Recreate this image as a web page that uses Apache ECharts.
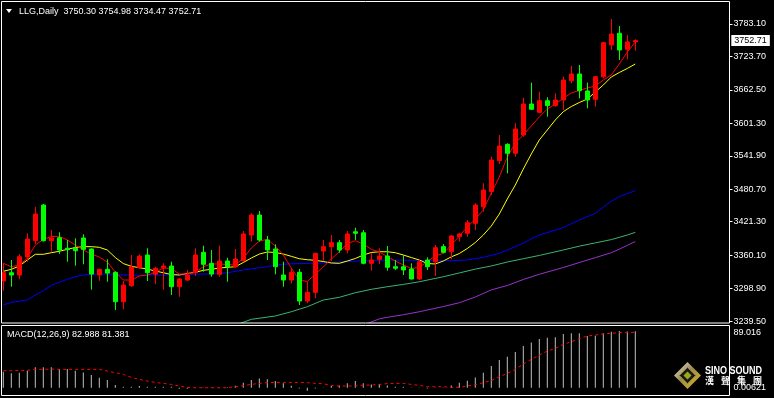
<!DOCTYPE html>
<html>
<head>
<meta charset="utf-8">
<script src="https://cdn.jsdelivr.net/npm/echarts@6/dist/echarts.min.js"></script>
<style>
    html, body { margin: 0; padding: 0; background: #000; }
    #main_chart { width: 774px; height: 398px; }
</style>
</head>
<body>
<div id="main_chart"></div>
<script>
// daily bars, oldest first (last bar = LLG 3750.30 3754.98 3734.47 3752.71)
const openP = [3312.7, 3327.9, 3323.7, 3356.6, 3386.5, 3451.8, 3386.5, 3392.0, 3372.6, 3372.6,
    3391.4, 3371.3, 3323.7, 3334.1, 3328.6, 3274.8, 3304.1, 3337.1, 3360.3, 3325.0,
    3337.1, 3340.2, 3302.3, 3314.5, 3328.6, 3365.2, 3345.1, 3325.0, 3349.3, 3338.9,
    3350.0, 3396.9, 3433.5, 3387.8, 3371.3, 3323.7, 3314.5, 3328.6, 3276.1, 3292.0,
    3367.6, 3375.6, 3382.9, 3369.5, 3402.9, 3401.1, 3345.1, 3352.4, 3358.5, 3338.9,
    3338.9, 3334.7, 3316.4, 3351.2, 3348.0, 3375.6, 3366.3, 3393.8, 3400.0, 3418.3,
    3448.7, 3476.3, 3532.9, 3562.9, 3546.4, 3579.9, 3636.7, 3621.5, 3642.7, 3633.6,
    3644.0, 3679.3, 3691.6, 3660.5, 3645.3, 3686.6, 3744.7, 3766.1, 3736.8, 3750.30];
const closeP = [3327.9, 3323.7, 3357.2, 3389.6, 3435.3, 3386.5, 3391.4, 3369.5, 3370.0, 3368.2,
    3370.7, 3325.5, 3334.1, 3327.2, 3274.8, 3305.4, 3338.3, 3358.5, 3327.9, 3336.0,
    3340.2, 3302.3, 3316.4, 3323.7, 3360.3, 3343.3, 3325.5, 3349.3, 3338.9, 3353.0,
    3398.8, 3433.5, 3387.8, 3369.5, 3338.9, 3314.5, 3328.6, 3276.1, 3292.0, 3363.4,
    3375.6, 3382.9, 3369.5, 3398.8, 3400.0, 3345.1, 3351.2, 3358.5, 3337.8, 3336.0,
    3332.9, 3316.4, 3348.0, 3338.9, 3373.7, 3365.2, 3395.1, 3398.8, 3419.4, 3451.8,
    3479.3, 3534.2, 3559.8, 3546.4, 3590.9, 3636.7, 3627.0, 3642.7, 3633.6, 3644.0,
    3680.6, 3691.6, 3661.0, 3644.0, 3686.6, 3748.9, 3764.8, 3735.5, 3750.2, 3752.71];
const lowP = [3295.0, 3302.3, 3315.9, 3348.0, 3380.4, 3385.0, 3366.3, 3362.1, 3348.0, 3340.7,
    3343.3, 3296.8, 3313.3, 3311.5, 3259.6, 3260.9, 3302.0, 3334.7, 3312.7, 3306.7,
    3296.8, 3287.1, 3284.0, 3312.7, 3322.4, 3329.8, 3320.6, 3320.6, 3311.5, 3337.1,
    3348.0, 3384.9, 3384.9, 3351.2, 3325.0, 3302.3, 3308.5, 3268.8, 3272.2, 3281.1,
    3349.3, 3349.3, 3364.5, 3363.4, 3387.8, 3343.3, 3331.6, 3343.9, 3331.6, 3332.9,
    3323.7, 3315.5, 3314.5, 3332.9, 3321.9, 3363.4, 3352.4, 3384.9, 3393.8, 3406.1,
    3439.6, 3470.1, 3526.9, 3509.8, 3540.2, 3576.8, 3626.0, 3619.6, 3613.4, 3631.7,
    3625.7, 3674.6, 3647.1, 3628.8, 3631.7, 3683.7, 3735.5, 3717.2, 3718.5, 3734.47];
const highP = [3345.1, 3351.2, 3362.1, 3400.0, 3448.2, 3453.7, 3406.1, 3401.9, 3387.8, 3390.9,
    3398.2, 3372.5, 3335.0, 3352.4, 3330.5, 3312.7, 3360.3, 3361.5, 3372.6, 3338.9,
    3345.1, 3348.0, 3318.0, 3332.9, 3372.6, 3377.3, 3369.5, 3377.3, 3355.4, 3371.3,
    3404.2, 3436.6, 3440.8, 3395.1, 3379.9, 3348.0, 3334.7, 3334.7, 3311.0, 3364.0,
    3387.8, 3396.9, 3387.8, 3404.2, 3410.3, 3406.1, 3363.4, 3372.6, 3376.8, 3351.2,
    3360.3, 3345.1, 3351.2, 3356.1, 3378.6, 3380.4, 3396.9, 3401.1, 3424.4, 3454.9,
    3491.5, 3540.2, 3579.9, 3564.7, 3601.3, 3648.2, 3675.7, 3659.2, 3649.0, 3656.3,
    3686.6, 3706.2, 3708.1, 3675.7, 3687.5, 3750.7, 3792.2, 3779.4, 3763.0, 3754.98];

// moving averages
const maRed = [3345.1, 3338.9, 3342.0, 3354.3, 3378.6, 3388.7, 3394.2, 3394.5, 3387.8, 3378.6,
    3369.5, 3362.1, 3356.6, 3347.5, 3329.2, 3314.5, 3314.5, 3321.9, 3323.7, 3328.3,
    3336.5, 3335.6, 3325.5, 3325.5, 3328.6, 3338.9, 3343.9, 3343.9, 3342.9, 3342.0,
    3354.3, 3373.1, 3385.9, 3389.0, 3376.8, 3360.3, 3336.5, 3314.5, 3311.8, 3325.5,
    3338.3, 3353.0, 3366.3, 3381.3, 3386.5, 3380.4, 3370.7, 3365.8, 3357.5, 3349.3,
    3342.0, 3335.9, 3337.4, 3348.4, 3358.5, 3363.4, 3378.6, 3395.1, 3411.6, 3426.2,
    3442.7, 3473.8, 3503.0, 3539.7, 3565.3, 3579.9, 3596.4, 3612.9, 3627.5, 3636.7,
    3647.1, 3656.8, 3661.4, 3666.0, 3669.6, 3680.6, 3689.8, 3709.9, 3731.9, 3750.1];
const maYellow = [3330.4, 3334.1, 3340.2, 3351.2, 3361.6, 3361.6, 3364.5, 3367.1, 3370.7, 3374.0,
    3375.6, 3375.6, 3374.4, 3369.5, 3355.7, 3344.7, 3339.6, 3337.1, 3334.7, 3331.0,
    3327.9, 3324.6, 3323.7, 3326.5, 3328.6, 3332.3, 3334.1, 3336.5, 3337.8, 3338.9,
    3346.6, 3354.8, 3362.1, 3365.8, 3364.9, 3362.1, 3357.9, 3353.5, 3351.7, 3350.6,
    3348.4, 3345.7, 3345.1, 3349.3, 3353.9, 3360.3, 3364.9, 3366.3, 3366.3, 3364.5,
    3360.3, 3355.7, 3351.2, 3344.7, 3343.9, 3349.3, 3357.0, 3363.0, 3372.2, 3383.2,
    3396.9, 3413.4, 3435.3, 3462.8, 3488.4, 3517.7, 3545.2, 3570.8, 3589.1, 3607.4,
    3622.6, 3632.1, 3639.4, 3645.8, 3658.6, 3671.4, 3686.1, 3694.3, 3701.7, 3709.9];
// [bar index, value]
const maBlue = [[0, 3268.8], [1, 3273.7], [3, 3277.9], [4, 3287.1], [5, 3295.0], [6, 3305.0],
    [8, 3315.8], [9, 3320.6], [10, 3323.7], [12, 3325.5], [13, 3325.5], [15, 3323.7],
    [17, 3323.1], [18, 3323.7], [21, 3323.7], [23, 3323.7], [24, 3325.5], [26, 3325.5],
    [28, 3327.9], [30, 3332.9], [33, 3338.9], [34, 3342.0], [36, 3344.4], [39, 3345.1],
    [41, 3346.6], [45, 3349.9], [49, 3351.2], [53, 3349.9], [56, 3349.9], [58, 3351.2],
    [60, 3356.0], [62, 3363.4], [63, 3369.5], [65, 3382.0], [66, 3390.0], [67, 3396.9],
    [70, 3410.5], [72, 3424.4], [74, 3436.6], [76, 3459.0], [77, 3467.0], [78, 3473.0], [79, 3478.0]];
const maGreen = [[29, 3232.0], [31, 3242.6], [34, 3248.7], [36, 3256.5], [38, 3265.7], [40, 3277.9],
    [42, 3282.9], [44, 3291.3], [46, 3297.5], [48, 3302.3], [50, 3306.5], [52, 3311.4],
    [55, 3320.5], [57, 3327.5], [59, 3334.5], [61, 3340.2], [63, 3347.5], [65, 3353.5],
    [67, 3359.5], [70, 3369.5], [72, 3376.5], [74, 3382.5], [76, 3388.5], [78, 3396.9], [79, 3401.8]];
const maPurple = [[45, 3232.0], [47, 3243.5], [48, 3246.3], [50, 3251.0], [52, 3256.5], [55, 3266.0],
    [57, 3273.0], [59, 3283.5], [61, 3296.5], [63, 3304.5], [65, 3315.5], [67, 3325.0],
    [70, 3337.5], [72, 3346.5], [74, 3355.5], [76, 3364.5], [77, 3371.0], [78, 3378.0], [79, 3385.0]];

// MACD(12,26,9)
const macdMain = [23.5, 21.1, 22.1, 25.0, 29.9, 29.9, 29.9, 27.4, 27.4, 25.0,
    22.5, 18.6, 14.7, 11.3, 3.9, 1.5, 1.5, 2.5, 1.5, 1.5,
    1.5, 1.5, -1.5, -1.5, 0.3, 0.3, 0.3, 0.5, 0.8, 2.9,
    7.4, 11.3, 13.7, 12.3, 9.8, 6.4, 2.9, -1.0, -4.4, -1.0,
    0.5, 2.5, 3.4, 6.4, 9.8, 6.4, 4.9, 5.4, 3.2, 1.5,
    1.5, -0.5, -0.5, -1.0, 0.3, 0.5, 3.4, 7.4, 10.3, 15.2,
    22.1, 31.9, 40.7, 45.6, 52.4, 61.3, 66.6, 71.5, 73.5, 74.0,
    78.9, 79.9, 79.9, 76.0, 76.4, 79.9, 82.3, 83.3, 82.8, 82.988];
const macdSignal = [25.0, 25.0, 25.5, 25.5, 27.0, 27.0, 27.4, 27.0, 27.0, 27.0,
    27.0, 27.0, 27.0, 24.5, 22.1, 19.6, 15.2, 12.3, 9.8, 7.8,
    6.4, 4.9, 2.5, 0.5, 0.0, 0.0, 0.0, 0.0, 0.0, 1.5,
    2.9, 4.9, 6.4, 7.4, 7.8, 7.8, 7.8, 7.8, 7.4, 6.4,
    5.9, 3.4, 2.5, 2.5, 2.5, 3.9, 3.9, 4.9, 6.1, 6.4,
    6.4, 4.9, 3.4, 1.5, 1.5, 1.5, 0.5, 0.5, 2.5, 4.4,
    7.4, 10.3, 16.2, 21.1, 27.0, 34.8, 41.7, 48.0, 53.9, 57.8,
    63.7, 67.6, 72.0, 76.0, 77.4, 78.9, 79.9, 80.9, 81.3, 81.381];

const priceTicks = [3239.50, 3298.90, 3360.10, 3421.30, 3480.70, 3541.90, 3601.30, 3662.50, 3723.70, 3783.10];
const macdScale = [89.016, 0.00621];
// 80 bars + empty room on the right
const categories = Array.from({length: 92}, (_, i) => 'D' + (i + 1));

let FONT = '"Liberation Sans", Arial, sans-serif';
let last = openP.length - 1;
let headerText = 'LLG,Daily  ' + [openP[last], highP[last], lowP[last], closeP[last]].map(v => v.toFixed(2)).join(' ');
let macdText = 'MACD(12,26,9) ' + macdMain[last].toFixed(3) + ' ' + macdSignal[last].toFixed(3);

let candles = openP.map((o, i) => [o, closeP[i], lowP[i], highP[i]]);

function maLine(name, data, color) {
    return {
        name: name,
        type: 'line',
        xAxisIndex: 0,
        yAxisIndex: 0,
        data: data,
        symbol: 'none',
        silent: true,
        clip: true,
        lineStyle: {color: color, width: 1},
        z: 3
    };
}

let myChart = echarts.init(document.getElementById('main_chart'), null, {renderer: 'canvas'});

let option = {
    backgroundColor: '#000',
    animation: false,
    grid: [
        {left: 3.3, right: 42.7, top: 3, bottom: 75.5, outerBoundsMode: 'none'},
        {left: 3.3, right: 42.7, top: 326, bottom: 3, outerBoundsMode: 'none'}
    ],
    xAxis: [
        {type: 'category', gridIndex: 0, data: categories, boundaryGap: false, show: false},
        {type: 'category', gridIndex: 1, data: categories, boundaryGap: false, show: false}
    ],
    yAxis: [{
        type: 'value',
        gridIndex: 0,
        position: 'right',
        offset: -1.8,
        min: 3236.8,
        max: 3821.5,
        splitLine: {show: false},
        axisLine: {show: false},
        axisTick: {show: true, customValues: priceTicks, length: 3, lineStyle: {color: '#fff', width: 1}},
        axisLabel: {
            customValues: priceTicks,
            color: '#fff',
            fontSize: 9,
            fontFamily: FONT,
            margin: 4,
            formatter: v => v.toFixed(2)
        }
    }, {
        type: 'value',
        gridIndex: 1,
        position: 'right',
        offset: -1.8,
        min: -10.7,
        max: 90.7,
        splitLine: {show: false},
        axisLine: {show: false},
        axisTick: {show: false},
        axisLabel: {
            customValues: macdScale,
            color: '#fff',
            fontSize: 9,
            fontFamily: FONT,
            margin: 4,
            formatter: v => (v > 1 ? '{hi|' + v.toFixed(3) + '}' : v.toFixed(5)),
            rich: {
                hi: {color: '#fff', fontSize: 9, fontFamily: FONT, padding: [10, 0, 0, 0]}
            }
        }
    }],
    series: [
        maLine('MA purple', maPurple, '#9932cc'),
        maLine('MA green', maGreen, '#3cb371'),
        maLine('MA blue', maBlue, '#0000ff'),
        maLine('MA yellow', maYellow, '#ffff00'),
        {
            name: 'LLG',
            type: 'candlestick',
            xAxisIndex: 0,
            yAxisIndex: 0,
            data: candles,
            barWidth: 4,
            clip: true,
            silent: true,
            z: 4,
            itemStyle: {
                color: '#ff0000',
                color0: '#00ff00',
                borderColor: '#ff0000',
                borderColor0: '#00ff00',
                borderWidth: 1
            },
            markLine: {
                silent: true,
                symbol: ['none', 'none'],
                lineStyle: {color: 'rgba(0,0,0,0)', width: 1, type: 'solid'},
                data: [{yAxis: closeP[last]}],
                label: {
                    show: true,
                    position: 'end',
                    distance: 0,
                    formatter: p => Number(p.value).toFixed(2),
                    backgroundColor: '#fff',
                    color: '#000',
                    fontSize: 9,
                    fontFamily: FONT,
                    padding: [1, 3, 1, 3]
                }
            }
        },
        maLine('MA red', maRed, '#ff0000'),
        {
            name: 'MACD',
            type: 'bar',
            xAxisIndex: 1,
            yAxisIndex: 1,
            data: macdMain,
            barWidth: 1,
            silent: true,
            itemStyle: {color: '#c0c0c0'}
        },
        {
            name: 'Signal',
            type: 'line',
            xAxisIndex: 1,
            yAxisIndex: 1,
            data: macdSignal,
            symbol: 'none',
            silent: true,
            lineStyle: {color: '#ff0000', width: 1, type: [3, 3]}
        }
    ],
    graphic: [
        // chart frames
        {type: 'rect', shape: {x: 1.5, y: 1.5, width: 728, height: 321.5}, style: {fill: null, stroke: '#fff', lineWidth: 1}, silent: true, z: 10},
        {type: 'rect', shape: {x: 1.5, y: 325.5, width: 728, height: 70}, style: {fill: null, stroke: '#fff', lineWidth: 1}, silent: true, z: 10},
        // header
        {type: 'polygon', shape: {points: [[6, 9], [12, 9], [9, 13]]}, style: {fill: '#fff'}, silent: true, z: 11},
        {type: 'text', x: 19, y: 7, style: {text: headerText, fill: '#fff', font: '9px ' + FONT}, silent: true, z: 11},
        {type: 'text', x: 7, y: 330, style: {text: macdText, fill: '#fff', font: '9px ' + FONT}, silent: true, z: 11},
        // logo
        {type: 'polygon', shape: {points: [[687.5, 362], [701, 375.5], [687.5, 389], [674, 375.5]]},
            style: {fill: new echarts.graphic.LinearGradient(0, 0, 1, 1, [{offset: 0, color: '#e8e8e8'}, {offset: 0.45, color: '#9a8a50'}, {offset: 1, color: '#e0b818'}])},
            silent: true, z: 12},
        {type: 'polygon', shape: {points: [[687.5, 367.5], [695.5, 375.5], [687.5, 383.5], [679.5, 375.5]]},
            style: {fill: '#1a1a10', stroke: '#8a7a30', lineWidth: 1}, silent: true, z: 13},
        {type: 'polygon', shape: {points: [[687.5, 371.5], [691.5, 375.5], [687.5, 379.5], [683.5, 375.5]]},
            style: {fill: '#9aa820'}, silent: true, z: 14},
        {type: 'text', x: 705, y: 365, scaleX: 0.82, style: {text: 'SINO SOUND', fill: '#fff', font: 'bold 11px ' + FONT}, silent: true, z: 12},
        {type: 'text', x: 705, y: 376, style: {text: '漢', fill: '#fff', font: 'bold 9px "Noto Sans CJK TC"'}, silent: true, z: 12},
        {type: 'text', x: 721, y: 376, style: {text: '聲', fill: '#fff', font: 'bold 9px "Noto Sans CJK TC"'}, silent: true, z: 12},
        {type: 'text', x: 737, y: 376, style: {text: '集', fill: '#fff', font: 'bold 9px "Noto Sans CJK TC"'}, silent: true, z: 12},
        {type: 'text', x: 753, y: 376, style: {text: '團', fill: '#fff', font: 'bold 9px "Noto Sans CJK TC"'}, silent: true, z: 12}
    ]
};

myChart.setOption(option);
</script>
</body>
</html>
